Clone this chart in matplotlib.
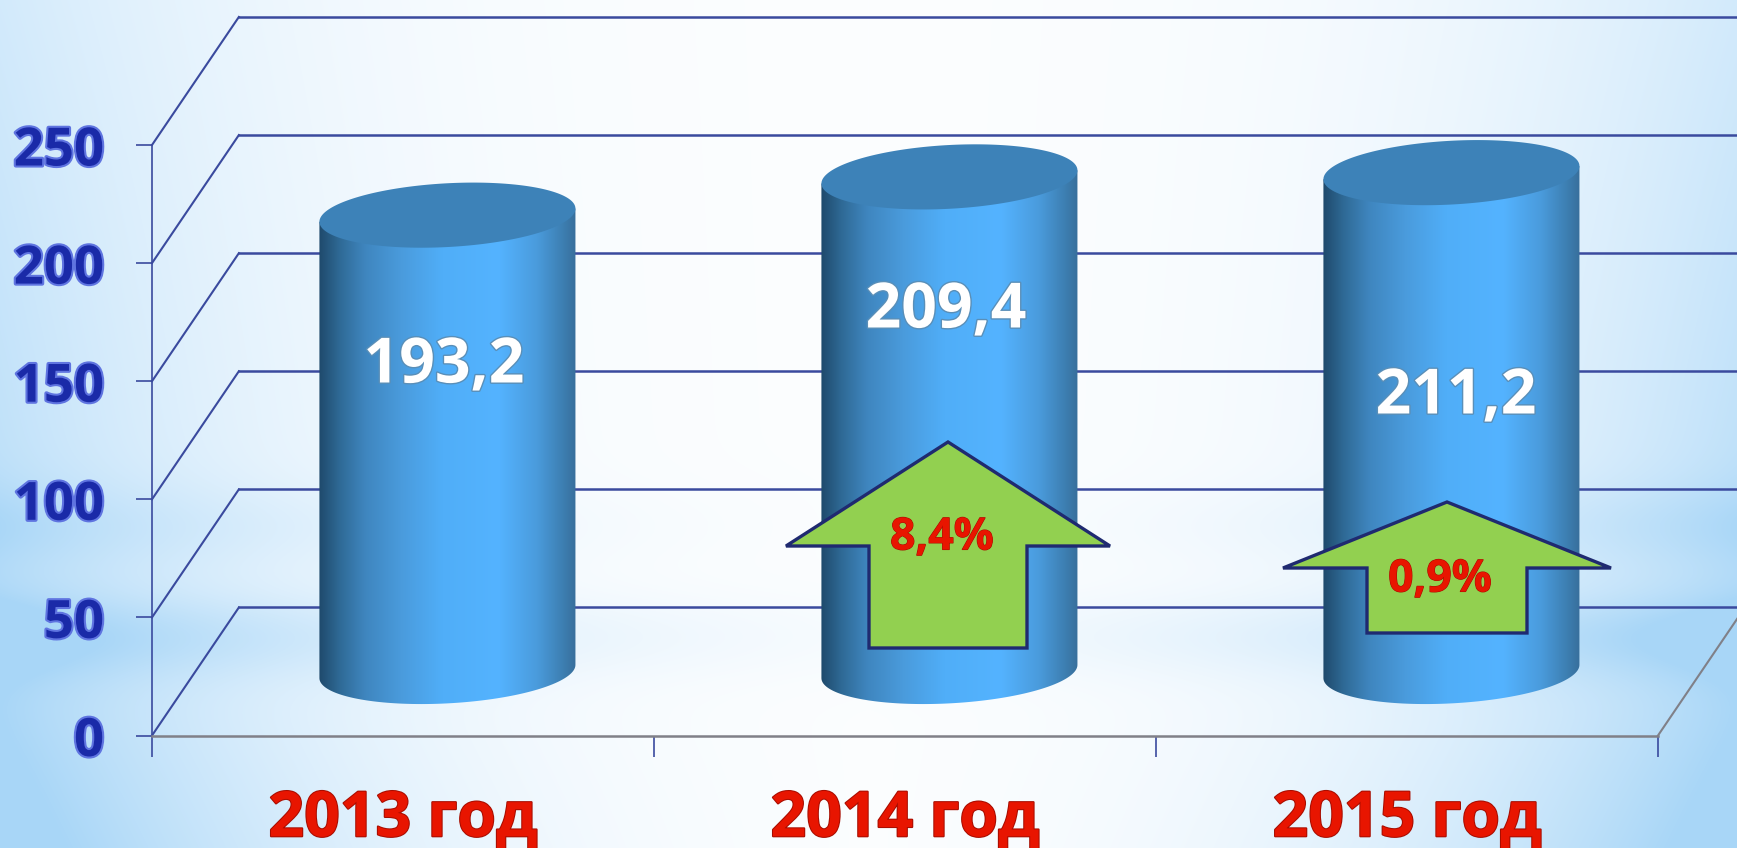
import numpy as np
import matplotlib
matplotlib.use("Agg")
import matplotlib.pyplot as plt
import matplotlib.patheffects as pe
from matplotlib.colors import LinearSegmentedColormap
from matplotlib.patches import Polygon

# --- DATA ---
years = ["2013 год", "2014 год", "2015 год"]
values = [193.2, 209.4, 211.2]
y_ticks = [0, 50, 100, 150, 200, 250]
growth_labels = ["8,4%", "0,9%"]

# --- LAYOUT (pixels of the 1737x848 picture) ---
W, H = 1737, 848
AX_LEFT, AX_RIGHT = 152, 1658
AX_BOTTOM, AX_TOP = 735.5, 145
DEPTH_X = 0.173   # 3d offset of the back wall, categories
DEPTH_Y = 54.2    # 3d offset of the back wall, value units
CYL_A = 0.255     # half width of a cylinder
CYL_B = 13.5      # half height of the ellipse
CYL_S = 2.8       # tilt of the ellipse
VALUE_POS = [(444, 366), (946, 311), (1456, 397)]
# tip y, shoulder y, bottom y, centre x, half head, half shaft
ARROWS = [(442, 546, 648, 948, 162, 79), (502, 568, 633, 1447, 164, 80)]
GROWTH_POS = [(942, 538), (1440, 580)]

LINE = "#3a4a9e"
FLOOR = "#808088"

fig = plt.figure(figsize=(W / 100, H / 100), dpi=100)

# Background
bg = fig.add_axes([0, 0, 1, 1], zorder=0)
yy, xx = np.mgrid[0:1:H * 1j, 0:1:W * 1j]
side = np.abs(xx - 0.5) / 0.5
blue = 0.7 * side ** 2.8 * (0.7 + 0.6 * yy)
blue += 0.22 * np.exp(-((yy - 0.62) / 0.05) ** 2) * side ** 1.3
blue += 0.38 * np.exp(-((yy - 0.75) / 0.05) ** 2) * (0.12 + side ** 1.1)
blue += 0.5 * np.clip(yy - 0.7, 0, 1) * 2 * side ** 1.3
blue = np.clip(blue, 0, 1)[..., None]
light = np.array([0.985, 0.993, 1.0])
deep = np.array([0.66, 0.84, 0.97])
bg.imshow(light * (1 - blue) + deep * blue, aspect="auto", extent=(0, W, H, 0))
bg.axis("off")

# Chart axes, value and category scales
ax = fig.add_axes([AX_LEFT / W, 1 - AX_BOTTOM / H,
                   (AX_RIGHT - AX_LEFT) / W, (AX_BOTTOM - AX_TOP) / H], zorder=1)
ax.patch.set_visible(False)

# Walls and floor
n = len(years)
for v in y_ticks:
    ax.plot([0, DEPTH_X], [v, v + DEPTH_Y], color=LINE, lw=1.5, clip_on=False)
    ax.plot([DEPTH_X, n + DEPTH_X], [v + DEPTH_Y, v + DEPTH_Y], color=LINE, lw=1.8, clip_on=False)
ax.plot([n, n + DEPTH_X], [0, DEPTH_Y], color=FLOOR, lw=1.5, clip_on=False)

# Cylinders
cmap = LinearSegmentedColormap.from_list("cyl", [
    (0.0, "#1f4a6c"), (0.08, "#2f6a96"), (0.18, "#3f86bf"), (0.32, "#4a9bdc"),
    (0.48, "#50aef8"), (0.70, "#54b3ff"), (0.85, "#4a9bdc"), (0.95, "#3d7fb2"),
    (1.0, "#386f9c")])
t = np.linspace(0, 2 * np.pi, 200)
for i, v in enumerate(values):
    cx = i + 0.5 + DEPTH_X / 2 + 0.002
    base = DEPTH_Y / 2
    top = v + DEPTH_Y / 2
    low = np.linspace(np.pi, 2 * np.pi, 100)
    low_x = cx + CYL_A * np.cos(low)
    low_y = base + CYL_S * np.cos(low) + CYL_B * np.sin(low)
    body = np.column_stack([
        np.r_[cx - CYL_A, low_x, cx + CYL_A],
        np.r_[top - CYL_S, low_y, top + CYL_S]])
    clip = Polygon(body, closed=True, fc="none", ec="none", zorder=3)
    ax.add_patch(clip)
    im = ax.imshow(np.linspace(0, 1, 256)[None, :], cmap=cmap, aspect="auto", zorder=3,
                   extent=(cx - CYL_A, cx + CYL_A, base - CYL_B - 5, top + CYL_B + 5))
    im.set_clip_path(clip)
    ax.fill(cx + CYL_A * np.cos(t), top + CYL_S * np.cos(t) + CYL_B * np.sin(t),
            color="#3d82b8", lw=0, zorder=4, clip_on=False)

ax.set_xlim(0, n)
ax.set_ylim(0, 250)
for s in ("top", "right"):
    ax.spines[s].set_visible(False)
ax.spines["left"].set_color(LINE)
ax.spines["left"].set_linewidth(1.2)
ax.spines["bottom"].set_color(FLOOR)
ax.spines["bottom"].set_linewidth(1.8)

tick_fx = [pe.withStroke(linewidth=3, foreground="#5f74e0")]
ax.set_yticks(y_ticks)
ax.set_yticklabels([str(v) for v in y_ticks], fontsize=38, fontweight="bold", family="Open Sans",
                   color="#1a2aa8", path_effects=tick_fx)
ax.tick_params(axis="y", length=11.5, width=1.2, color=LINE, pad=23)

ax.set_xticks(range(n + 1))
ax.set_xticklabels([])
ax.tick_params(axis="x", which="major", length=15, width=1.2, color=LINE)
ax.set_xticks([i + 0.5 for i in range(n)], minor=True)
ax.set_xticklabels(years, minor=True, fontsize=45, fontweight="bold", family="Open Sans",
                   color="#e81500", path_effects=[pe.withStroke(linewidth=1.5, foreground="#a80d00")])
ax.tick_params(axis="x", which="minor", length=0, pad=38)

# Arrows and text on top, in pixels
top_ax = fig.add_axes([0, 0, 1, 1], zorder=2)
top_ax.set_xlim(0, W)
top_ax.set_ylim(H, 0)
top_ax.axis("off")

for (tip, sh, bot, cx, hw, sw), lab, pos in zip(ARROWS, growth_labels, GROWTH_POS):
    pts = [(cx, tip), (cx + hw, sh), (cx + sw, sh), (cx + sw, bot),
           (cx - sw, bot), (cx - sw, sh), (cx - hw, sh)]
    top_ax.add_patch(Polygon(pts, closed=True, fc="#92d050", ec="#1f2a70", lw=2.4, joinstyle="miter"))
    top_ax.text(pos[0], pos[1], lab, ha="center", va="center", fontsize=32, fontweight="bold",
                family="Open Sans", color="#e81500",
                path_effects=[pe.withStroke(linewidth=0.8, foreground="#a80d00")])

for v, pos in zip(values, VALUE_POS):
    top_ax.text(pos[0], pos[1], f"{v:.1f}".replace(".", ","), ha="center", va="center",
                fontsize=45, fontweight="bold", family="Open Sans", color="white",
                path_effects=[pe.withStroke(linewidth=2, foreground="#5a8fb8")])

fig.savefig("out.png", dpi=100)
